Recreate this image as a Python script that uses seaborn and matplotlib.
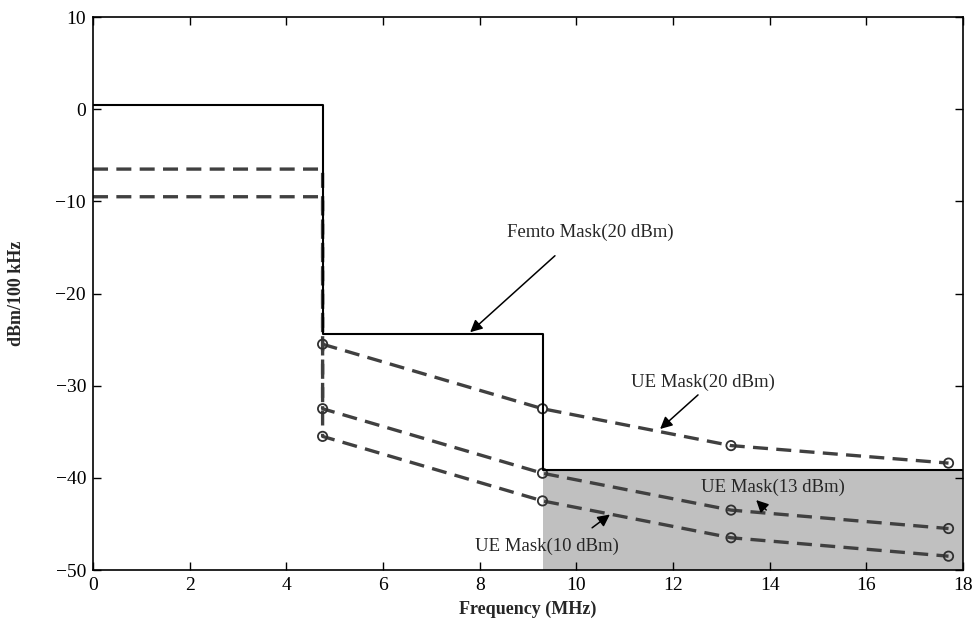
"""Spectrum emission masks: femto vs UE masks."""

import matplotlib as mpl
import matplotlib.pyplot as plt
import seaborn as sns

# Femto mask (20 dBm), stepwise
femto_x = [0, 4.75, 4.75, 9.3, 9.3, 18]
femto_y = [0.5, 0.5, -24.4, -24.4, -39.1, -39.1]

# UE masks: marked points beyond the channel edge
ue_mark_x = [4.75, 9.3, 13.2, 17.7]
ue20_mark_y = [-25.5, -32.5, -36.5, -38.4]
ue13_mark_y = [-32.5, -39.5, -43.5, -45.5]
ue10_mark_y = [-35.5, -42.5, -46.5, -48.5]
# in-band level (None = hidden under the femto mask)
ue13_inband = -6.5
ue10_inband = -9.5

x_ticks = [0, 2, 4, 6, 8, 10, 12, 14, 16, 18]
y_ticks = [-50, -40, -30, -20, -10, 0, 10]

sns.set_theme(style="ticks")
mpl.rcParams["font.family"] = ["Liberation Serif", "DejaVu Serif"]
mpl.rcParams["axes.unicode_minus"] = True

fig = plt.figure(figsize=(9.76, 6.21), dpi=100)
ax = fig.add_axes([0.0953, 0.0821, 0.8914, 0.8905])

# shaded region under the femto mask tail
ax.fill_between([9.3, 18], [-50, -50], [-39.1, -39.1], color="#c0c0c0", lw=0, zorder=0)

dash_kw = dict(color="#404040", linewidth=2.4, dashes=(4.5, 2.5), sort=False,
               estimator=None, ax=ax, zorder=2)
for inband, marks in [(None, ue20_mark_y), (ue13_inband, ue13_mark_y),
                      (ue10_inband, ue10_mark_y)]:
    xs = list(ue_mark_x)
    ys = list(marks)
    if inband is not None:
        xs = [0, 4.75] + xs
        ys = [inband, inband] + ys
    sns.lineplot(x=xs, y=ys, **dash_kw)
    sns.scatterplot(x=ue_mark_x, y=marks, ax=ax, s=45, facecolor="none",
                    edgecolor="#303030", linewidth=1.3, zorder=3)

sns.lineplot(x=femto_x, y=femto_y, color="black", linewidth=1.5, sort=False,
             estimator=None, ax=ax, zorder=4)

ax.set_xlim(0, 18)
ax.set_ylim(-50, 10)
ax.set_xticks(x_ticks)
ax.set_yticks(y_ticks)
ax.tick_params(direction="in", top=True, right=True, length=6, width=1,
               labelsize=14, colors="black", pad=5)
for spine in ax.spines.values():
    spine.set_visible(True)
    spine.set_color("black")
    spine.set_linewidth(1.2)

ax.set_xlabel("Frequency (MHz)", fontsize=13, fontweight="bold", labelpad=5)
ax.set_ylabel("dBm/100 kHz", fontsize=13, fontweight="bold", labelpad=22)

arrow = dict(arrowstyle="-|>", color="black", lw=1.1, mutation_scale=18)
txt_kw = dict(fontsize=13.5, ha="center", va="center")

ax.text(10.28, -13.4, "Femto Mask(20 dBm)", **txt_kw)
ax.annotate("", xy=(7.76, -24.4), xytext=(9.6, -15.7), arrowprops=arrow)

ax.text(12.62, -29.6, "UE Mask(20 dBm)", **txt_kw)
ax.annotate("", xy=(11.69, -34.9), xytext=(12.56, -30.8), arrowprops=arrow)

ax.text(14.07, -41.0, "UE Mask(13 dBm)", **txt_kw)
ax.annotate("", xy=(13.68, -42.2), xytext=(13.97, -43.7), arrowprops=arrow)

ax.text(9.39, -47.4, "UE Mask(10 dBm)", **txt_kw)
ax.annotate("", xy=(10.74, -43.8), xytext=(10.28, -45.6), arrowprops=arrow)

fig.savefig("out.png", dpi=100)
